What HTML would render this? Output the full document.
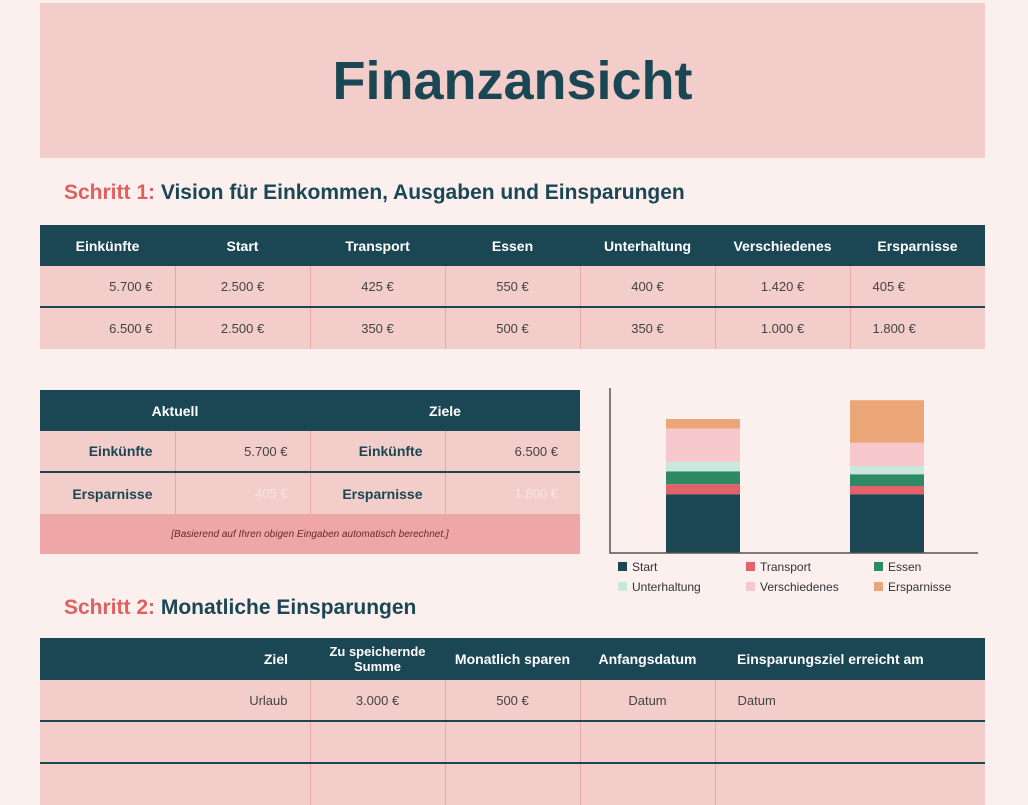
<!DOCTYPE html>
<html><head><meta charset="utf-8"><style>
*{box-sizing:border-box;margin:0;padding:0}
body{width:1028px;height:800px;background:#fbf0ee;font-family:"Liberation Sans",sans-serif;position:relative;overflow:hidden;color:#333}
.banner{position:absolute;left:40px;top:3px;width:945px;height:155px;background:#f2cdca;display:flex;align-items:center;justify-content:center}
.banner h1{font-size:54px;color:#1b4654;font-weight:bold}
.step{position:absolute;left:64px;font-size:21px;font-weight:bold;color:#1b4654}
.step span{color:#e0605f}
table{position:absolute;border-collapse:collapse;table-layout:fixed}
th{background:#1b4654;color:#fff;font-size:14px;font-weight:bold}
td{background:#f2cdca;font-size:13px;color:#444;border-left:1px solid #e6a9a3}
td:first-child{border-left:none}
tr.sep td{border-top:2px solid #1b4654}
.r{text-align:right;padding-right:22px}
.c{text-align:center}
.l{text-align:left;padding-left:22px}
.b{font-weight:bold;color:#1b4654;font-size:14px}
</style></head><body>
<div class="banner"><h1>Finanzansicht</h1></div>
<div class="step" style="top:181px"><span>Schritt 1:</span> Vision für Einkommen, Ausgaben und Einsparungen</div>
<table style="left:40px;top:225px;width:945px">
<tr style="height:41px"><th>Einkünfte</th><th>Start</th><th>Transport</th><th>Essen</th><th>Unterhaltung</th><th>Verschiedenes</th><th>Ersparnisse</th></tr>
<tr style="height:41px"><td class="r">5.700 €</td><td class="c">2.500 €</td><td class="c">425 €</td><td class="c">550 €</td><td class="c">400 €</td><td class="c">1.420 €</td><td class="l">405 €</td></tr>
<tr class="sep" style="height:42px"><td class="r">6.500 €</td><td class="c">2.500 €</td><td class="c">350 €</td><td class="c">500 €</td><td class="c">350 €</td><td class="c">1.000 €</td><td class="l">1.800 €</td></tr>
</table>
<table style="left:40px;top:390px;width:540px">
<tr style="height:41px"><th colspan="2">Aktuell</th><th colspan="2">Ziele</th></tr>
<tr style="height:41px"><td class="r b">Einkünfte</td><td class="r">5.700 €</td><td class="r b">Einkünfte</td><td class="r">6.500 €</td></tr>
<tr class="sep" style="height:42px"><td class="r b">Ersparnisse</td><td class="r" style="color:#f8e4e2">405 €</td><td class="r b">Ersparnisse</td><td class="r" style="color:#f8e4e2">1.800 €</td></tr>
<tr style="height:40px"><td colspan="4" class="c" style="background:#eea6a6;font-size:10px;font-style:italic;color:#6a2a2a">[Basierend auf Ihren obigen Eingaben automatisch berechnet.]</td></tr>
</table>
<svg id="chart" style="position:absolute;left:600px;top:380px" width="400" height="220"></svg>
<div class="step" style="top:596px"><span>Schritt 2:</span> Monatliche Einsparungen</div>
<table style="left:40px;top:638px;width:945px">
<colgroup><col style="width:270px"><col style="width:135px"><col style="width:135px"><col style="width:135px"><col style="width:270px"></colgroup>
<tr style="height:42px"><th class="r">Ziel</th><th class="c" style="font-size:13px">Zu speichernde Summe</th><th>Monatlich sparen</th><th>Anfangsdatum</th><th class="l">Einsparungsziel erreicht am</th></tr>
<tr style="height:41px"><td class="r">Urlaub</td><td class="c">3.000 €</td><td class="c">500 €</td><td class="c">Datum</td><td class="l">Datum</td></tr>
<tr class="sep" style="height:42px"><td></td><td></td><td></td><td></td><td></td></tr>
<tr class="sep" style="height:42px"><td></td><td></td><td></td><td></td><td></td></tr>
</table>
<script>
const categories=["Aktuell","Ziele"];
const seriesNames=["Start","Transport","Essen","Unterhaltung","Verschiedenes","Ersparnisse"];
const startVals=[2500,2500];
const transportVals=[425,350];
const essenVals=[550,500];
const unterhaltungVals=[400,350];
const verschiedenesVals=[1420,1000];
const ersparnisseVals=[405,1800];
const colors=["#1b4654","#e4606a","#2e8a64","#c9e8dc","#f6c8cc","#eba678"];
const series=[startVals,transportVals,essenVals,unterhaltungVals,verschiedenesVals,ersparnisseVals];
const svg=document.getElementById('chart');
const NS="http://www.w3.org/2000/svg";
const baseY=173, k=134/5700, barW=74;
const xPos=i=>66+i*184;
const yScale=v=>baseY-v*k;
function mk(t,a){const e=document.createElementNS(NS,t);for(const n in a)e.setAttribute(n,a[n]);svg.appendChild(e);return e;}
categories.forEach((c,i)=>{let acc=0;series.forEach((s,j)=>{const y1=yScale(acc+s[i]),y0=yScale(acc);acc+=s[i];
const r=mk('rect',{x:xPos(i),y:y1,width:barW,height:y0-y1,fill:colors[j]});

});});
const ax=mk('path',{d:`M10 8 V${baseY} H378`,stroke:'#555','stroke-width':1.5,fill:'none'});


seriesNames.forEach((n,j)=>{const col=j%3,row=Math.floor(j/3);const x=18+col*128,y=181+row*20;
const sw=mk('rect',{x:x,y:y+1,width:9,height:9,fill:colors[j]});


const t=mk('text',{x:x+14,y:y+10,'font-size':12,fill:'#333','font-family':'Liberation Sans, sans-serif'});t.textContent=n;

});
</script>
</body></html>
